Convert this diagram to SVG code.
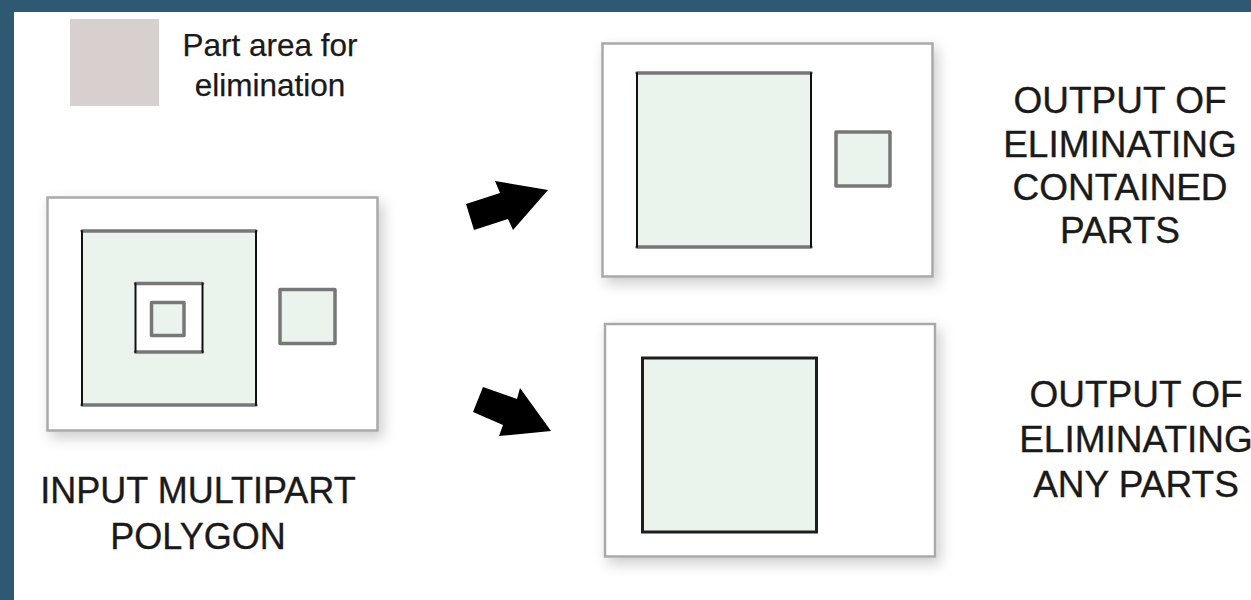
<svg xmlns="http://www.w3.org/2000/svg" width="1251" height="600" viewBox="0 0 1251 600">
  <defs>
    <filter id="shadow" x="-20%" y="-20%" width="140%" height="140%">
      <feDropShadow dx="4" dy="6" stdDeviation="7" flood-color="#000" flood-opacity="0.2"/>
    </filter>
  </defs>
  <style>
    .frame { fill: #ffffff; stroke: #a9a9a9; stroke-width: 2.5; }
    .part { fill: #eaf4ec; }
    .hole { fill: #ffffff; }
    .hz { stroke: #777777; stroke-width: 3.5; stroke-linecap: round; }
    .vt { stroke: #111111; stroke-width: 2; stroke-linecap: round; }
    .small { fill: #eaf4ec; stroke: #777777; stroke-width: 3.5; stroke-linejoin: round; }
    .dark { fill: #eaf4ec; stroke: #1e1e1e; stroke-width: 3; }
    .lbl { font-family: "Liberation Sans", Arial, Helvetica, sans-serif; fill: #1a1a1a; stroke: #1a1a1a; stroke-width: 0.35; text-anchor: middle; }
    .big { font-size: 37px; }
    .inp { font-size: 36px; }
    .leg { font-size: 31.5px; stroke-width: 0.25; }
    .arrow { fill: #000000; }
  </style>
  <rect x="0" y="0" width="1251" height="600" fill="#ffffff"/>
  <rect x="0" y="0" width="1251" height="12" fill="#2f5873"/>
  <rect x="0" y="0" width="14" height="600" fill="#2f5873"/>

  <g id="legend">
    <rect x="70" y="19" width="89" height="87" fill="#d8d0cf"/>
    <text class="lbl leg" x="270" y="56">Part area for</text>
    <text class="lbl leg" x="270" y="96">elimination</text>
  </g>

  <g id="input">
    <rect class="frame" x="47.5" y="197.5" width="330" height="233" filter="url(#shadow)"/>
    <rect class="part" x="82" y="231" width="174" height="174"/>
    <line class="hz" x1="82" y1="231" x2="256" y2="231"/>
    <line class="hz" x1="82" y1="405" x2="256" y2="405"/>
    <line class="vt" x1="82" y1="231" x2="82" y2="405"/>
    <line class="vt" x1="256" y1="231" x2="256" y2="405"/>
    <rect class="hole" x="135.5" y="283.5" width="67" height="68.5"/>
    <line class="hz" x1="135.5" y1="283.5" x2="202.5" y2="283.5"/>
    <line class="hz" x1="135.5" y1="352" x2="202.5" y2="352"/>
    <line class="vt" x1="135.5" y1="283.5" x2="135.5" y2="352"/>
    <line class="vt" x1="202.5" y1="283.5" x2="202.5" y2="352"/>
    <rect class="small" x="151.5" y="302.5" width="32.5" height="33"/>
    <rect class="small" x="280" y="289.5" width="55" height="54"/>
    <text class="lbl inp" x="198" y="503">INPUT MULTIPART</text>
    <text class="lbl inp" x="198" y="549">POLYGON</text>
  </g>

  <g id="output-contained">
    <rect class="frame" x="602.5" y="43.5" width="330" height="233" filter="url(#shadow)"/>
    <rect class="part" x="637" y="73" width="174" height="174"/>
    <line class="hz" x1="637" y1="73" x2="811" y2="73"/>
    <line class="hz" x1="637" y1="247" x2="811" y2="247"/>
    <line class="vt" x1="637" y1="73" x2="637" y2="247"/>
    <line class="vt" x1="811" y1="73" x2="811" y2="247"/>
    <rect class="small" x="836" y="132" width="54" height="54"/>
    <text class="lbl big" x="1120" y="113">OUTPUT OF</text>
    <text class="lbl big" x="1120" y="156.5">ELIMINATING</text>
    <text class="lbl big" x="1120" y="200">CONTAINED</text>
    <text class="lbl big" x="1120" y="243">PARTS</text>
  </g>

  <g id="output-any">
    <rect class="frame" x="605" y="324" width="330" height="232.5" filter="url(#shadow)"/>
    <rect class="dark" x="642.5" y="358" width="174" height="174"/>
    <text class="lbl big" x="1136" y="406.5">OUTPUT OF</text>
    <text class="lbl big" x="1136" y="451.5">ELIMINATING</text>
    <text class="lbl big" x="1136" y="496.5">ANY PARTS</text>
  </g>

  <g id="connectors">
    <polygon class="arrow" points="466,204 500,193 495,181 548,190 513,230 508,219 474,230"/>
    <polygon class="arrow" points="483,387 517,399 520,388 551,431 499,436 503,425 473,412"/>
  </g>
</svg>
